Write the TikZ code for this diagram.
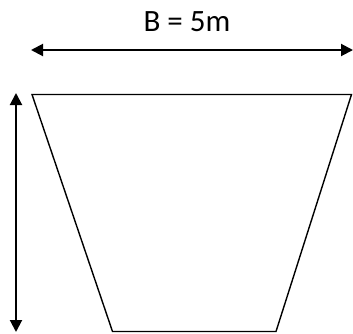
\documentclass[tikz,border=0pt]{standalone}
\usepackage{fontspec}
\setmainfont{Carlito}
\usetikzlibrary{arrows.meta}
\begin{document}
\begin{tikzpicture}[x=1pt,y=-1pt,
  dim/.style={line width=2pt,{Triangle[length=12pt,width=12pt]}-{Triangle[length=12pt,width=12pt]}},
  outline/.style={line width=1.4pt,line join=miter}]
\useasboundingbox (0,0) rectangle (353,333);
\coordinate (hl) at (31,50);
\coordinate (hr) at (353,50);
\draw[dim] (hl) -- (hr);
\node[font=\fontsize{31}{36}\selectfont,inner sep=0pt] (lab) at (187,22) {B = 5m};
\coordinate (vt) at (16,93);
\coordinate (vb) at (16,332);
\draw[dim] (vt) -- (vb);
\coordinate (a) at (32,94.5);
\coordinate (b) at (351.5,94.5);
\coordinate (c) at (276,331.5);
\coordinate (d) at (112.5,331.5);
\draw[outline] (a) -- (b) -- (c) -- (d) -- cycle;
\end{tikzpicture}
\end{document}
